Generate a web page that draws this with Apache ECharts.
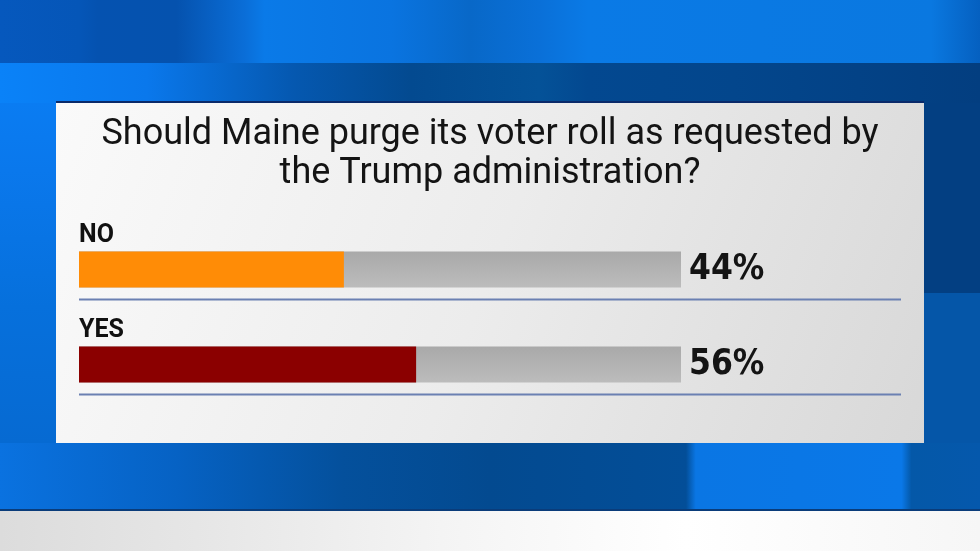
<!DOCTYPE html>
<html>
<head>
<meta charset="utf-8">
<script src="https://cdn.jsdelivr.net/npm/echarts@6/dist/echarts.min.js"></script>
<style>html,body{margin:0;padding:0;background:#0566c8;}#c{width:980px;height:551px;}</style>
</head>
<body>
<div id="c"></div>
<script>
const titleLines = ['Should Maine purge its voter roll as requested by', 'the Trump administration?'];
const categories = ['NO', 'YES'];
const values = [44, 56];
const barColors = ['#ff8c06', '#8b0000'];
const trackMax = 100;

const chart = echarts.init(document.getElementById('c'), null, {renderer: 'canvas'});

function rect(x, y, w, h, fill, z) {
  return {type: 'rect', shape: {x: x, y: y, width: w, height: h}, style: {fill: fill}, z: z || 0, silent: true};
}
function lg(x, y, x2, y2, stops) {
  return {type: 'linear', x: x, y: y, x2: x2, y2: y2, global: false,
    colorStops: stops.map(s => ({offset: s[0], color: s[1]}))};
}

const bg = [
  rect(0, 0, 980, 551, '#0566c8', -10),
  rect(0, 0, 980, 63, lg(0, 0, 1, 0, [[0, '#0658bd'], [0.08, '#0556b8'], [0.1, '#0552b0'], [0.18, '#0552ae'], [0.25, '#0a6ed8'], [0.27, '#0a7ae8'], [0.4, '#0a74e0'], [0.48, '#0868c8'], [0.55, '#0a70d8'], [0.6, '#0a7ae6'], [0.95, '#0a78e0'], [1, '#0560c0']]), -9),
  rect(0, 63, 980, 40, lg(0, 0, 1, 0, [[0, '#0a82f8'], [0.15, '#0a78ec'], [0.3, '#0558b0'], [0.42, '#034a90'], [0.55, '#045298'], [0.6, '#034890'], [0.75, '#03468c'], [1, '#033e80']]), -9),
  rect(0, 103, 56, 340, lg(0, 0, 0, 1, [[0, '#0a7cf2'], [0.2, '#0a78ec'], [0.6, '#0670dc'], [1, '#066ad2']]), -9),
  rect(924, 103, 56, 190, '#033f82', -9),
  rect(924, 293, 56, 150, '#0556a8', -9),
  rect(0, 443, 980, 67, lg(0, 0, 1, 0, [[0, '#0a72e0'], [0.18, '#0662c4'], [0.35, '#04509c'], [0.5, '#034a90'], [0.7, '#034e98'], [0.71, '#0a76e4'], [0.92, '#0a78e8'], [0.93, '#0458a8'], [1, '#0558ac']]), -9),
  rect(0, 509, 980, 2, '#0a3c7a', -8),
  rect(0, 511, 980, 40, lg(0, 0, 1, 0, [[0, '#dcdcdc'], [0.2, '#e6e6e6'], [0.45, '#f4f4f4'], [0.7, '#ffffff'], [1, '#f6f6f6']]), -9),
  rect(56, 101, 868, 2, '#0a2a6a', -7),
  rect(56, 103, 868, 340, lg(0, 0, 1, 1, [[0, '#fafafa'], [0.5, '#ececec'], [1, '#d8d8d8']]), -7)
];

const titleStyle = {fontFamily: 'Roboto', fontSize: 36, fontWeight: 400, color: '#141414'};

chart.setOption({
  animation: false,
  graphic: bg,
  title: [
    {text: titleLines[0], left: 'center', top: 112, textStyle: titleStyle},
    {text: titleLines[1], left: 'center', top: 151, textStyle: titleStyle}
  ],
  grid: {left: 79, right: 299, top: 222, bottom: 139, containLabel: false},
  xAxis: {type: 'value', min: 0, max: trackMax, show: false},
  yAxis: {type: 'category', data: categories, inverse: true, show: false},
  series: [
    {
      type: 'bar',
      data: categories.map(() => trackMax),
      barWidth: 36,
      barGap: '-100%',
      itemStyle: {color: lg(0, 0, 0, 1, [[0, '#a9a9a9'], [1, '#bcbcbc']])},
      label: {
        show: true, position: 'right', distance: 8,
        formatter: p => values[p.dataIndex] + '%',
        fontFamily: '"DejaVu Sans Condensed", "DejaVu Sans"', fontWeight: 'bold', fontSize: 35, color: '#141414'
      },
      silent: true, z: 2
    },
    {
      type: 'bar',
      data: values.map((v, i) => ({value: v, itemStyle: {color: barColors[i]}})),
      barWidth: 36,
      barGap: '-100%',
      label: {
        show: true, position: [0, -28],
        formatter: p => categories[p.dataIndex],
        fontFamily: 'Roboto', fontWeight: 'bold', fontSize: 25, color: '#111'
      },
      silent: true, z: 3
    },
    {
      type: 'custom',
      data: categories.map((c, i) => [0, i]),
      renderItem: function (params, api) {
        const p = api.coord([0, api.value(1)]);
        return {type: 'rect', shape: {x: p[0], y: p[1] + 29, width: 822, height: 2}, style: {fill: '#6b80b2'}};
      },
      silent: true, z: 1
    }
  ]
});
</script>
</body>
</html>
